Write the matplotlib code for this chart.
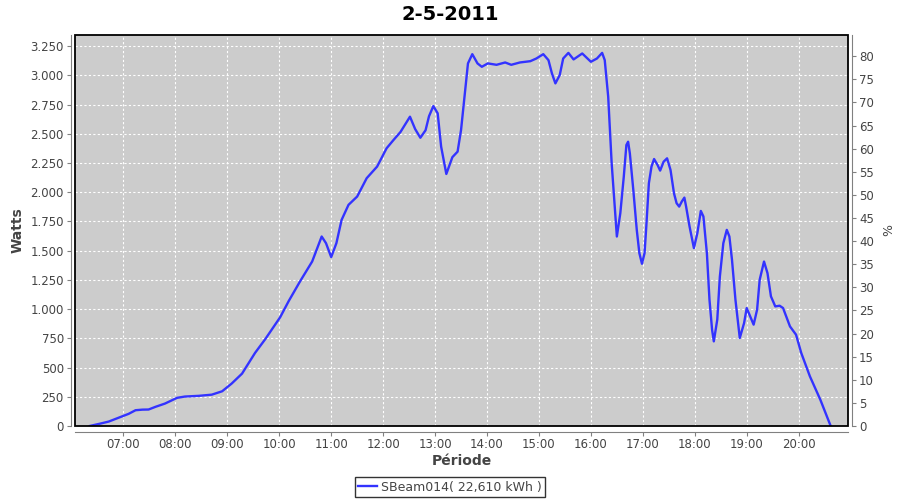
import pandas as pd
import matplotlib.pyplot as plt
import matplotlib.dates as mdates
from matplotlib.ticker import FuncFormatter, MultipleLocator
from matplotlib.patches import Rectangle

times = ["06:21", "06:33", "06:43", "06:54", "07:06", "07:14", "07:22", "07:29", "07:37", "07:48",
         "08:02", "08:11", "08:27", "08:42", "08:54", "09:05", "09:17", "09:32", "09:44", "10:01",
         "10:11", "10:24", "10:38", "10:49", "10:54", "11:00", "11:06", "11:12", "11:20", "11:30",
         "11:41", "11:53", "12:04", "12:12", "12:20", "12:31", "12:37", "12:43", "12:49", "12:53",
         "12:58", "13:03", "13:07", "13:13", "13:20", "13:26", "13:30", "13:34", "13:38", "13:43",
         "13:49", "13:54", "14:01", "14:11", "14:21", "14:28", "14:38", "14:50", "14:57", "15:05",
         "15:11", "15:15", "15:19", "15:24", "15:28", "15:34", "15:40", "15:50", "16:00", "16:07",
         "16:13", "16:16", "16:20", "16:24", "16:27", "16:30", "16:34", "16:38", "16:41", "16:43",
         "16:45", "16:49", "16:53", "16:56", "16:59", "17:02", "17:04", "17:07", "17:10", "17:13",
         "17:17", "17:20", "17:24", "17:28", "17:32", "17:36", "17:39", "17:42", "17:45", "17:48",
         "17:50", "17:54", "17:59", "18:03", "18:07", "18:10", "18:14", "18:17", "18:20", "18:22",
         "18:26", "18:29", "18:33", "18:37", "18:40", "18:43", "18:47", "18:52", "18:57", "19:00",
         "19:04", "19:08", "19:12", "19:15", "19:20", "19:24", "19:28", "19:33", "19:38", "19:42",
         "19:50", "19:57", "20:03", "20:13", "20:25", "20:37"]

watts = [0, 20, 38, 70, 104, 135, 140, 141, 164, 192,
         241, 252, 258, 268, 297, 363, 448, 625, 745, 930,
         1070, 1237, 1407, 1621, 1564, 1445, 1564, 1763, 1892, 1963,
         2120, 2219, 2376, 2447, 2515, 2646, 2540, 2466, 2530, 2650,
         2737, 2675, 2390, 2156, 2300, 2347, 2532, 2817, 3102, 3181,
         3102, 3073, 3102, 3090, 3110, 3090, 3110, 3121, 3144, 3181,
         3130, 3016, 2931, 3002, 3144, 3192, 3136, 3187, 3116, 3144,
         3192, 3130, 2817, 2248, 1934, 1621, 1821, 2133, 2404, 2432,
         2333, 2020, 1678, 1479, 1388, 1479, 1706, 2077, 2219, 2284,
         2233, 2185, 2261, 2290, 2190, 1991, 1906, 1877, 1920, 1954,
         1877, 1706, 1522, 1650, 1840, 1792, 1479, 1080, 824, 724,
         910, 1279, 1564, 1678, 1621, 1422, 1080, 753, 881, 1009,
         938, 867, 995, 1251, 1407, 1308, 1109, 1023, 1029, 1009,
         852, 781, 625, 425, 226, 0]

day = "2011-05-02"
title = "2-5-2011"
series_label = "SBeam014( 22,610 kWh )"
peak_watts = 3955  # 100 % on the right axis

t = pd.to_datetime([day + " " + s for s in times])

fig = plt.figure(figsize=(9, 5), dpi=100)
ax = fig.add_axes([0.0833, 0.148, 0.8589, 0.782])
ax.set_facecolor("#cccccc")

ax.plot(t, watts, color="#3333ff", linewidth=1.7, label=series_label, zorder=3)

ax.set_xlim(pd.Timestamp(day + " 06:04"), pd.Timestamp(day + " 20:57"))
ax.set_ylim(0, 3345)
ax.xaxis.set_major_locator(mdates.HourLocator())
ax.xaxis.set_major_formatter(mdates.DateFormatter("%H:%M"))
ax.yaxis.set_major_locator(MultipleLocator(250))
ax.yaxis.set_major_formatter(FuncFormatter(lambda v, p: f"{int(v):,}".replace(",", ".")))

ax.grid(True, color="white", linestyle=(0, (2, 2)), linewidth=0.8, zorder=1)
ax.set_axisbelow(True)

ax2 = ax.twinx()
ax2.set_ylim(0, 3345 * 100 / peak_watts)
ax2.yaxis.set_major_locator(MultipleLocator(5))

for a in (ax, ax2):
    for s in a.spines.values():
        s.set_visible(False)
    a.tick_params(colors="#808080", labelcolor="#444444", labelsize=8.5, length=3, width=0.8, pad=2)

ax.spines["left"].set_visible(True)
ax.spines["left"].set_position(("outward", 3))
ax.spines["left"].set_color("#808080")
ax.spines["bottom"].set_visible(True)
ax.spines["bottom"].set_position(("outward", 4))
ax.spines["bottom"].set_color("#808080")
ax2.spines["right"].set_visible(True)
ax2.spines["right"].set_position(("outward", 3))
ax2.spines["right"].set_color("#808080")

ax.add_patch(Rectangle((0, 0), 1, 1, transform=ax.transAxes, fill=False,
                       edgecolor="black", linewidth=1.3, clip_on=False, zorder=5))

ax.set_xlabel("Période", fontsize=10, fontweight="bold", color="#444444", labelpad=2)
ax.set_ylabel("Watts", fontsize=10, fontweight="bold", color="#444444", labelpad=4)
ax2.set_ylabel("%", fontsize=9, color="#444444", labelpad=6)

fig.suptitle(title, x=0.5, y=0.99, fontsize=14, fontweight="bold")

fig.legend(loc="center", bbox_to_anchor=(0.5, 0.026), fontsize=9, frameon=True,
           fancybox=False, edgecolor="black", handlelength=1.5, handletextpad=0.3,
           borderpad=0.3, labelcolor="#444444")

fig.savefig("out.png", dpi=100)
